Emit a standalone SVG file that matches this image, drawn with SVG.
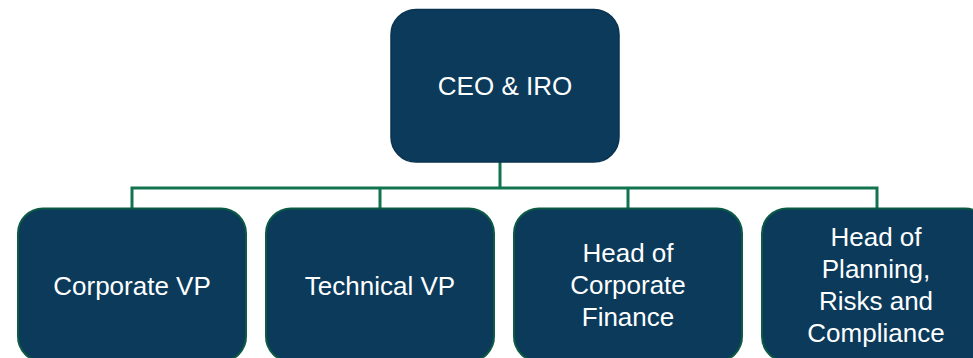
<svg xmlns="http://www.w3.org/2000/svg" width="973" height="358" viewBox="0 0 973 358">
<style>
.box{fill:#0b3a5b;stroke:#0c5a44;stroke-width:2}
.top{fill:#0b3a5b;stroke:#0a3350;stroke-width:1.5}
.t{fill:#ffffff;font-family:"Liberation Sans",Arial,sans-serif;font-size:26px;text-anchor:middle}
.c{fill:none;stroke:#12744f;stroke-width:3}
</style>
<rect width="973" height="358" fill="#ffffff"/>
<g id="connectors">
<path class="c" d="M500 162 V188 M132 208 V188 H877 V208 M380 188 V208 M628 188 V208"/>
</g>
<g id="ceo">
<rect class="top" x="391" y="9.5" width="228" height="152.5" rx="25"/>
<text class="t" x="505" y="95">CEO &amp; IRO</text>
</g>
<g id="corporate-vp">
<rect class="box" x="18" y="208.5" width="228" height="153" rx="25"/>
<text class="t" x="132" y="295">Corporate VP</text>
</g>
<g id="technical-vp">
<rect class="box" x="266" y="208.5" width="228" height="153" rx="25"/>
<text class="t" x="380" y="295">Technical VP</text>
</g>
<g id="head-corporate-finance">
<rect class="box" x="514" y="208.5" width="228" height="153" rx="25"/>
<text class="t" x="628" y="262">Head of</text>
<text class="t" x="628" y="294">Corporate</text>
<text class="t" x="628" y="326">Finance</text>
</g>
<g id="head-planning">
<rect class="box" x="762" y="208.5" width="228" height="153" rx="25"/>
<text class="t" x="876" y="246">Head of</text>
<text class="t" x="876" y="278">Planning,</text>
<text class="t" x="876" y="310">Risks and</text>
<text class="t" x="876" y="342">Compliance</text>
</g>
</svg>
